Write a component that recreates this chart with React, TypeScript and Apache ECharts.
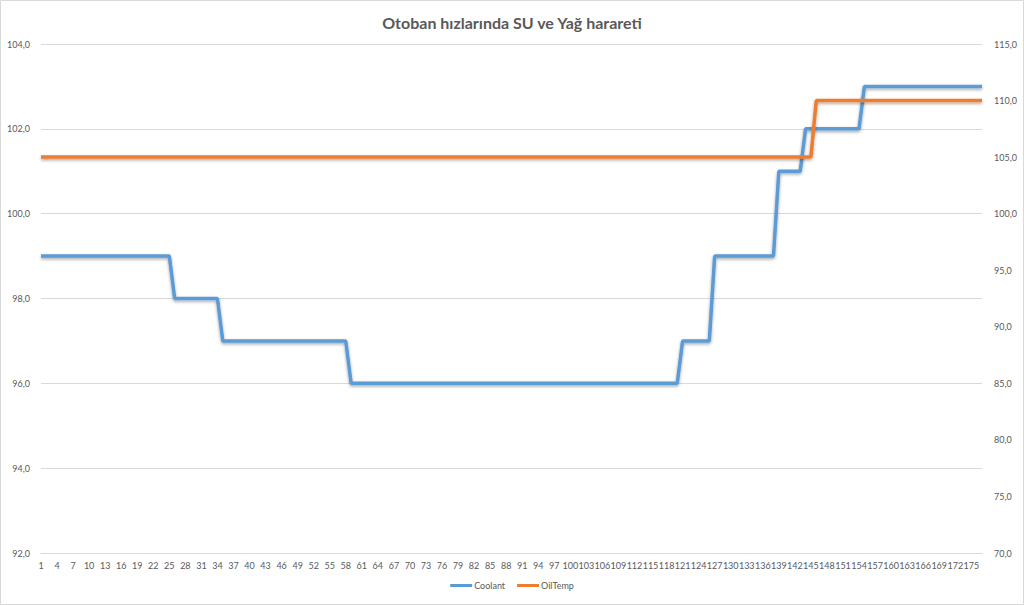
import React, { useEffect, useRef } from "react";
import * as echarts from "echarts";

const categories: string[] = [];
for (let i = 1; i <= 177; i++) categories.push(String(i));

// Step levels, with the last category index of each level
const coolantLevels = [99, 98, 97, 96, 97, 99, 101, 102, 103];
const coolantRunEnds = [25, 34, 58, 120, 126, 138, 143, 154, 177];
const oilLevels = [105, 110];
const oilRunEnds = [145, 177];

function expand(levels: number[], ends: number[]): number[] {
  const out: number[] = [];
  let start = 1;
  levels.forEach((v, k) => {
    for (let i = start; i <= ends[k]; i++) out.push(v);
    start = ends[k] + 1;
  });
  return out;
}

const coolant = expand(coolantLevels, coolantRunEnds);
const oilTemp = expand(oilLevels, oilRunEnds);

const FONT = "Lato, 'Open Sans', sans-serif";
const TXT = "#595959";
const fmt = (v: number) => v.toFixed(1).replace(".", ",");

export default function App() {
  const ref = useRef<HTMLDivElement>(null);
  useEffect(() => {
    if (!ref.current) return;
    const chart = echarts.init(ref.current, undefined, { renderer: "svg" });
    chart.setOption({
      animation: false,
      backgroundColor: "#ffffff",
      textStyle: { fontFamily: FONT },
      title: {
        text: "Otoban hızlarında SU ve Yağ harareti",
        left: "center",
        top: 9,
        textStyle: { fontFamily: FONT, fontSize: 16, fontWeight: "bold", color: TXT },
      },
      graphic: [
        {
          type: "rect",
          shape: { x: 0.5, y: 0.5, width: 1023, height: 604 },
          style: { fill: "none", stroke: "#d9d9d9", lineWidth: 1 },
          silent: true,
        },
      ],
      legend: {
        bottom: 10,
        left: "center",
        itemWidth: 22,
        itemHeight: 3,
        itemGap: 12,
        icon: "rect",
        textStyle: { fontFamily: FONT, fontSize: 9, color: TXT, padding: [0, 0, 0, -3] },
        data: ["Coolant", "OilTemp"],
      },
      grid: { left: 41, right: 42, top: 44, bottom: 52, containLabel: false },
      xAxis: {
        type: "category",
        data: categories,
        boundaryGap: false,
        axisLine: { lineStyle: { color: "#d9d9d9" } },
        axisTick: { show: false },
        axisLabel: { interval: 2, fontSize: 9, color: TXT, fontFamily: FONT, margin: 8 },
      },
      yAxis: [
        {
          type: "value",
          min: 92,
          max: 104,
          interval: 2,
          axisLine: { show: false },
          axisTick: { show: false },
          splitLine: { lineStyle: { color: "#d9d9d9" } },
          axisLabel: { fontSize: 9, color: TXT, fontFamily: FONT, margin: 11, formatter: fmt },
        },
        {
          type: "value",
          min: 70,
          max: 115,
          interval: 5,
          axisLine: { show: false },
          axisTick: { show: false },
          splitLine: { show: false },
          axisLabel: { fontSize: 9, color: TXT, fontFamily: FONT, margin: 12, formatter: fmt },
        },
      ],
      series: [
        {
          name: "Coolant",
          type: "line",
          yAxisIndex: 0,
          data: coolant,
          showSymbol: false,
          symbol: "none",
          color: "#5B9BD5",
          lineStyle: {
            width: 3.5,
            color: "#5B9BD5",
            shadowColor: "rgba(0,0,0,0.35)",
            shadowBlur: 3,
            shadowOffsetY: 1.5,
          },
        },
        {
          name: "OilTemp",
          type: "line",
          yAxisIndex: 1,
          data: oilTemp,
          showSymbol: false,
          symbol: "none",
          color: "#ED7D31",
          lineStyle: {
            width: 3.5,
            color: "#ED7D31",
            shadowColor: "rgba(0,0,0,0.35)",
            shadowBlur: 3,
            shadowOffsetY: 1.5,
          },
        },
      ],
    });
    return () => chart.dispose();
  }, []);
  return (
    <div
      ref={ref}
      style={{ position: "fixed", left: 0, top: 0, width: 1024, height: 605 }}
    />
  );
}
